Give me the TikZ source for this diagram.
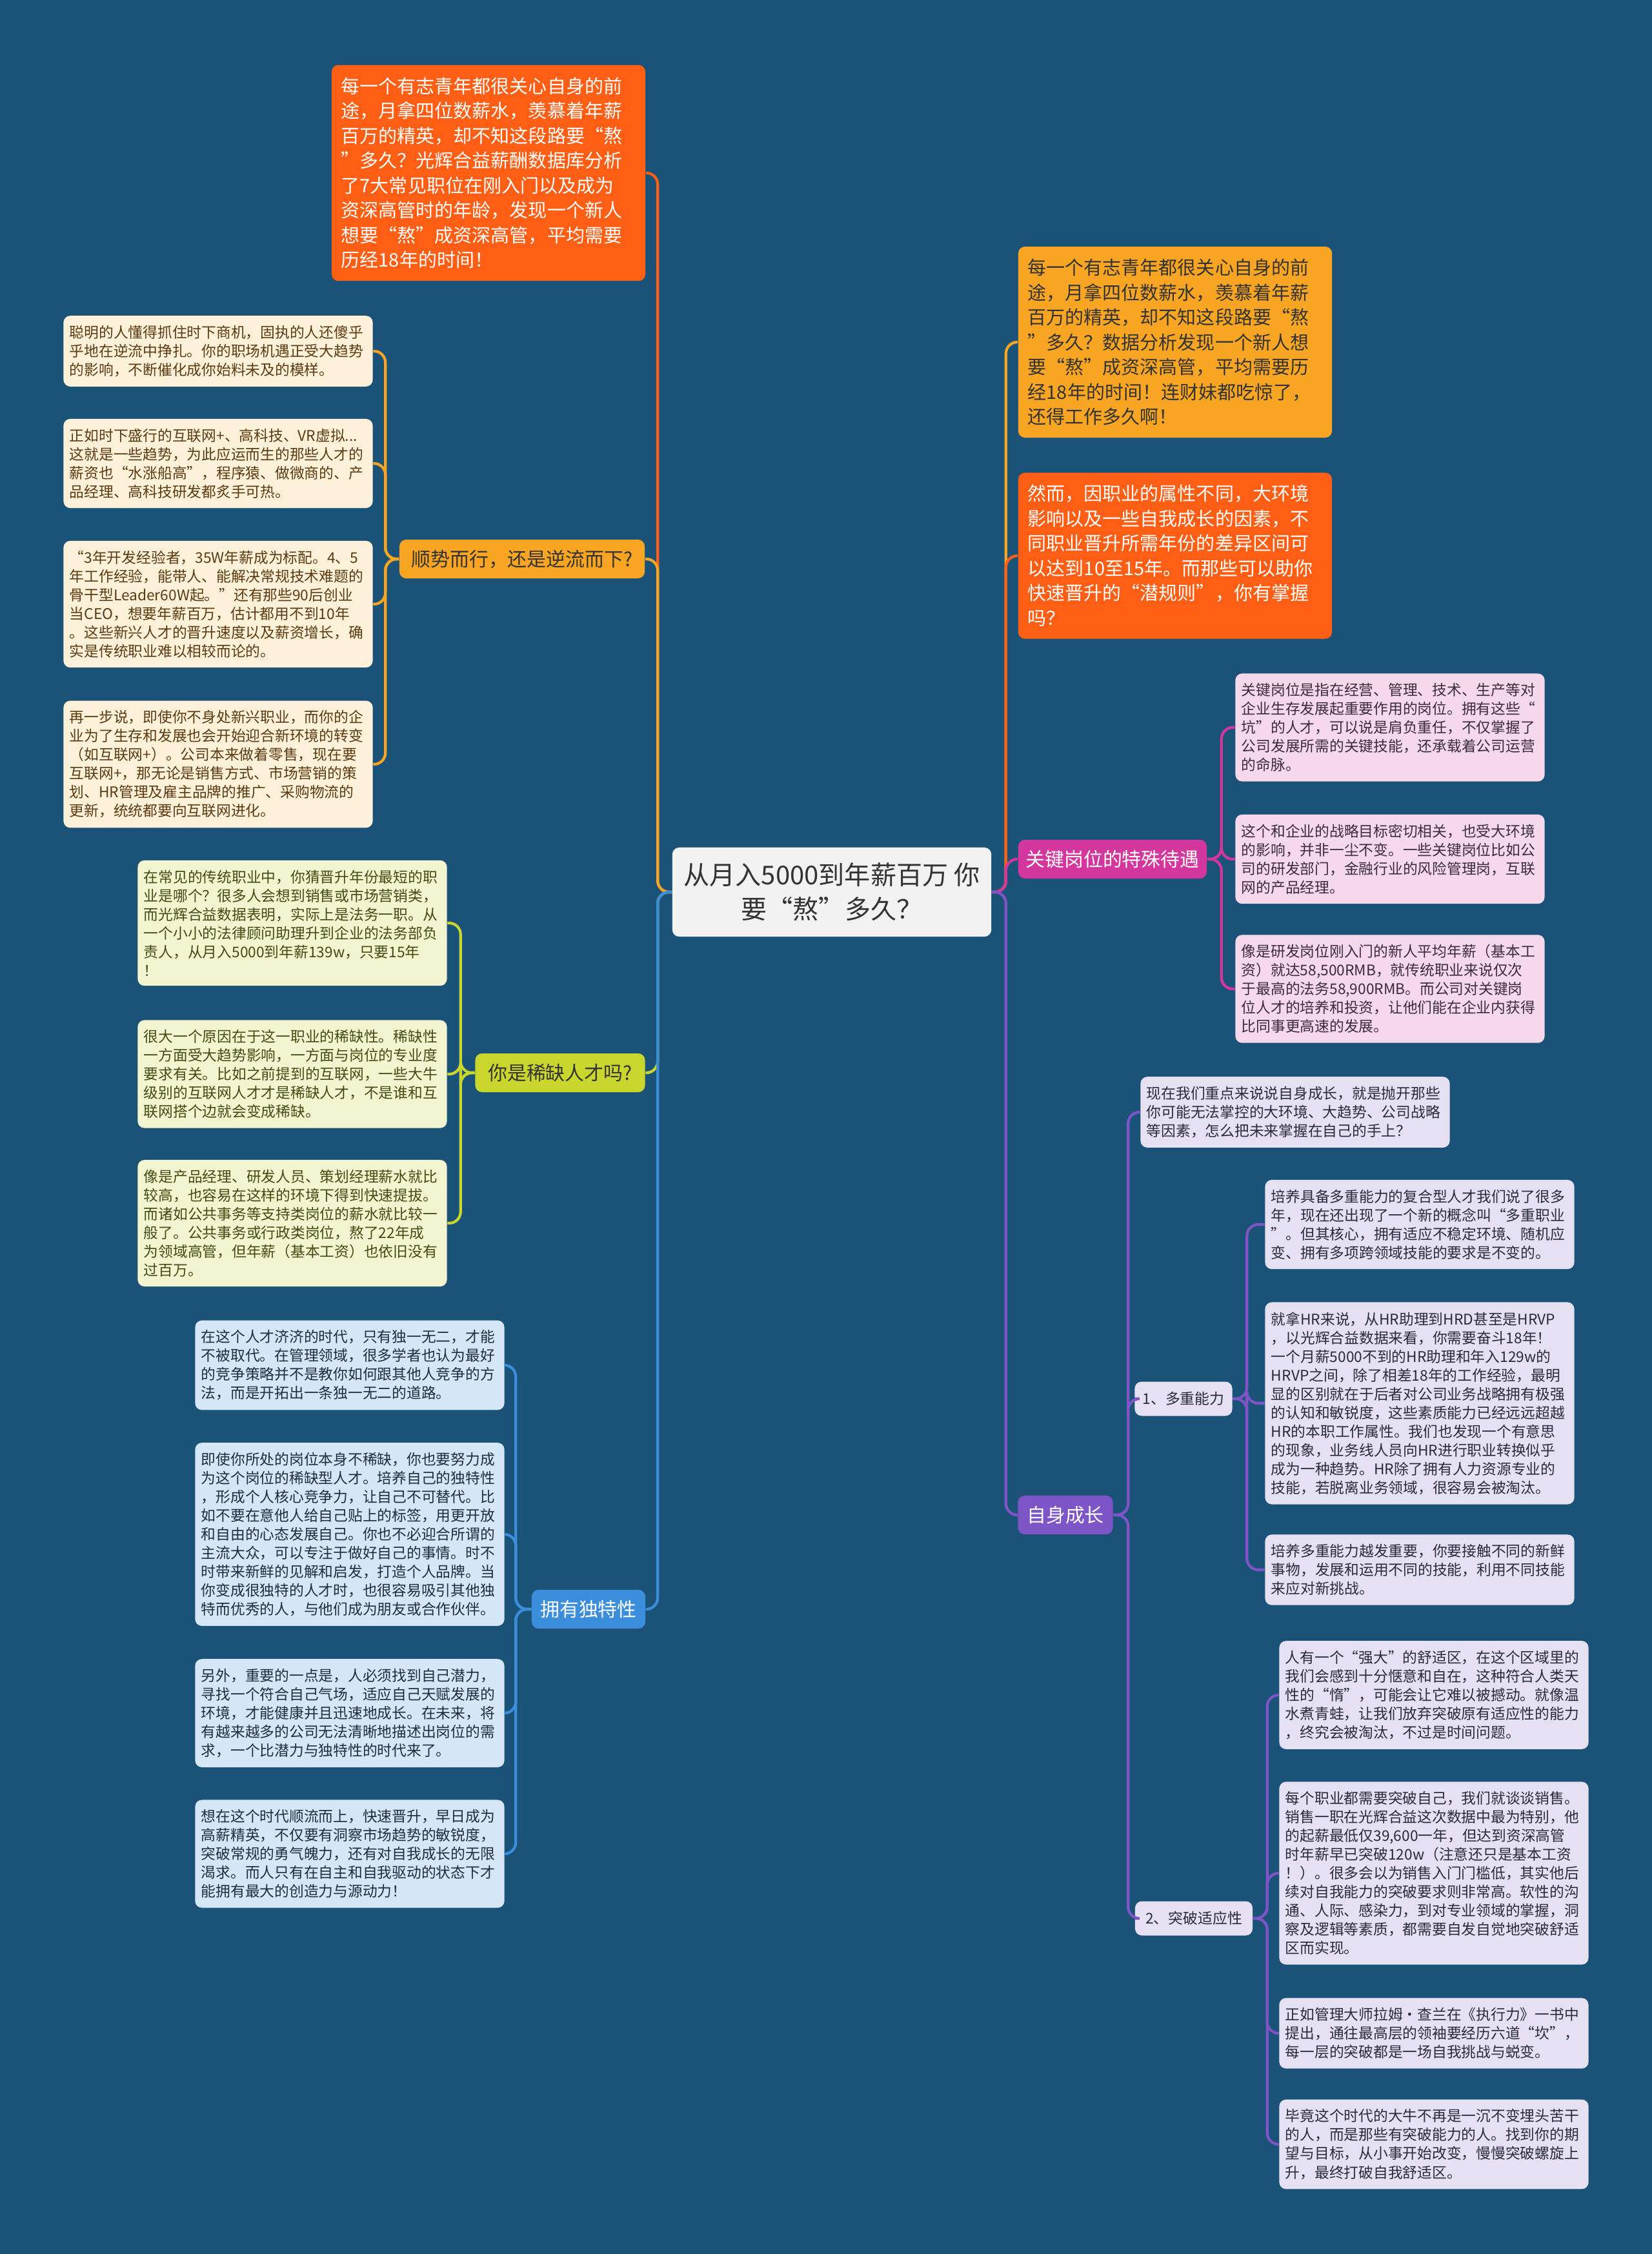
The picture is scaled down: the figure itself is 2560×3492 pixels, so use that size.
\documentclass[tikz,border=0pt]{standalone}
\usepackage{fontspec}
\setmainfont{Noto Sans CJK SC}
\usepackage{tikz}
\definecolor{MapBg}{HTML}{1B5277}
\definecolor{MapPaper}{HTML}{F2F2F2}
\definecolor{MapInk}{HTML}{333333}
\definecolor{MapFlame}{HTML}{FF5E14}
\definecolor{MapAmber}{HTML}{F7A523}
\definecolor{MapCream}{HTML}{FDF2D9}
\definecolor{MapBrown}{HTML}{5B3A12}
\definecolor{MapLime}{HTML}{C8D62E}
\definecolor{MapLimeLight}{HTML}{F3F5D1}
\definecolor{MapOlive}{HTML}{434B12}
\definecolor{MapSky}{HTML}{3A8EDB}
\definecolor{MapSkyLight}{HTML}{D5E6F6}
\definecolor{MapNavy}{HTML}{1F2D3D}
\definecolor{MapRose}{HTML}{D3379E}
\definecolor{MapRoseLight}{HTML}{F5D8EC}
\definecolor{MapPlum}{HTML}{3B2B3B}
\definecolor{MapViolet}{HTML}{7D55C7}
\definecolor{MapLilac}{HTML}{E5E1F2}
\definecolor{MapDusk}{HTML}{2A2A3F}
\newcommand{\mapcentre}{\fontsize{11.4pt}{15.1pt}\selectfont}
\newcommand{\mapbig}{\fontsize{8.25pt}{10.95pt}\selectfont}
\newcommand{\maptopic}{\fontsize{8.5pt}{10pt}\selectfont}
\newcommand{\mapsmall}{\fontsize{6.47pt}{8.25pt}\selectfont}
\newcommand{\maptag}{\fontsize{6.5pt}{8pt}\selectfont}
\begin{document}
\begin{tikzpicture}[x=0.01cm, y=-0.01cm,
  every node/.style={align=left},
  bigbox/.style={rounded corners=3pt, font=\mapbig, text width=4.56cm, inner xsep=0.15cm, inner ysep=0.19cm},
  leaf/.style={rounded corners=3pt, font=\mapsmall, text width=4.6cm, inner xsep=0.095cm, inner ysep=0.15cm},
  topic/.style={rounded corners=3pt, font=\maptopic, minimum height=0.6cm, inner sep=0pt, align=center},
  tag/.style={rounded corners=3pt, font=\maptag, minimum height=0.53cm, inner sep=0pt, align=center},
  link/.style={line width=1.2pt, rounded corners=5pt}]
  \fill[MapBg] (0,0) rectangle (2560,3492);
  \useasboundingbox (0,0) rectangle (2560,3492);

  \node[rounded corners=3pt, fill=MapPaper, text=MapInk, font=\mapcentre, align=center,
    minimum width=4.94cm, minimum height=1.38cm] (ctr) at (1289,1382)
    {从月入5000到年薪百万 你\\要“熬”多久？};

  % left side
  \node[bigbox, fill=MapFlame, text=white] (lA) at (757,268)
    {每一个有志青年都很关心自身的前\\途，月拿四位数薪水，羡慕着年薪\\百万的精英，却不知这段路要“熬\\”多久？光辉合益薪酬数据库分析\\了7大常见职位在刚入门以及成为\\资深高管时的年龄，发现一个新人\\想要“熬”成资深高管，平均需要\\历经18年的时间！};
  \node[topic, fill=MapAmber, text=MapInk, minimum width=3.8cm] (lB) at (809,866)
    {顺势而行，还是逆流而下?};
  \node[leaf, fill=MapCream, text=MapBrown] (L1) at (338,544)
    {聪明的人懂得抓住时下商机，固执的人还傻乎\\乎地在逆流中挣扎。你的职场机遇正受大趋势\\的影响，不断催化成你始料未及的模样。};
  \node[leaf, fill=MapCream, text=MapBrown] (L2) at (338,718)
    {正如时下盛行的互联网+、高科技、VR虚拟...\\这就是一些趋势，为此应运而生的那些人才的\\薪资也“水涨船高”，程序猿、做微商的、产\\品经理、高科技研发都炙手可热。};
  \node[leaf, fill=MapCream, text=MapBrown] (L3) at (338,936)
    {“3年开发经验者，35W年薪成为标配。4、5\\年工作经验，能带人、能解决常规技术难题的\\骨干型Leader60W起。”还有那些90后创业\\当CEO，想要年薪百万，估计都用不到10年\\。这些新兴人才的晋升速度以及薪资增长，确\\实是传统职业难以相较而论的。};
  \node[leaf, fill=MapCream, text=MapBrown] (L4) at (338,1184)
    {再一步说，即使你不身处新兴职业，而你的企\\业为了生存和发展也会开始迎合新环境的转变\\（如互联网+）。公司本来做着零售，现在要\\互联网+，那无论是销售方式、市场营销的策\\划、HR管理及雇主品牌的推广、采购物流的\\更新，统统都要向互联网进化。};

  \node[topic, fill=MapLime, text=MapInk, minimum width=2.63cm] (lC) at (868,1662)
    {你是稀缺人才吗?};
  \node[leaf, fill=MapLimeLight, text=MapOlive] (Y1) at (453,1430)
    {在常见的传统职业中，你猜晋升年份最短的职\\业是哪个？很多人会想到销售或市场营销类，\\而光辉合益数据表明，实际上是法务一职。从\\一个小小的法律顾问助理升到企业的法务部负\\责人，从月入5000到年薪139w，只要15年\\！};
  \node[leaf, fill=MapLimeLight, text=MapOlive] (Y2) at (453,1664)
    {很大一个原因在于这一职业的稀缺性。稀缺性\\一方面受大趋势影响，一方面与岗位的专业度\\要求有关。比如之前提到的互联网，一些大牛\\级别的互联网人才才是稀缺人才，不是谁和互\\联网搭个边就会变成稀缺。};
  \node[leaf, fill=MapLimeLight, text=MapOlive] (Y3) at (453,1895)
    {像是产品经理、研发人员、策划经理薪水就比\\较高，也容易在这样的环境下得到快速提拔。\\而诸如公共事务等支持类岗位的薪水就比较一\\般了。公共事务或行政类岗位，熬了22年成\\为领域高管，但年薪（基本工资）也依旧没有\\过百万。};

  \node[topic, fill=MapSky, text=white, minimum width=1.76cm] (lD) at (912,2493)
    {拥有独特性};
  \node[leaf, fill=MapSkyLight, text=MapNavy] (B1) at (542,2115)
    {在这个人才济济的时代，只有独一无二，才能\\不被取代。在管理领域，很多学者也认为最好\\的竞争策略并不是教你如何跟其他人竞争的方\\法，而是开拓出一条独一无二的道路。};
  \node[leaf, fill=MapSkyLight, text=MapNavy] (B2) at (542,2377)
    {即使你所处的岗位本身不稀缺，你也要努力成\\为这个岗位的稀缺型人才。培养自己的独特性\\，形成个人核心竞争力，让自己不可替代。比\\如不要在意他人给自己贴上的标签，用更开放\\和自由的心态发展自己。你也不必迎合所谓的\\主流大众，可以专注于做好自己的事情。时不\\时带来新鲜的见解和启发，打造个人品牌。当\\你变成很独特的人才时，也很容易吸引其他独\\特而优秀的人，与他们成为朋友或合作伙伴。};
  \node[leaf, fill=MapSkyLight, text=MapNavy] (B3) at (542,2654)
    {另外，重要的一点是，人必须找到自己潜力，\\寻找一个符合自己气场，适应自己天赋发展的\\环境，才能健康并且迅速地成长。在未来，将\\有越来越多的公司无法清晰地描述出岗位的需\\求，一个比潜力与独特性的时代来了。};
  \node[leaf, fill=MapSkyLight, text=MapNavy] (B4) at (542,2872)
    {想在这个时代顺流而上，快速晋升，早日成为\\高薪精英，不仅要有洞察市场趋势的敏锐度，\\突破常规的勇气魄力，还有对自我成长的无限\\渴求。而人只有在自主和自我驱动的状态下才\\能拥有最大的创造力与源动力！};

  % right side
  \node[bigbox, fill=MapAmber, text=MapInk] (rA) at (1821,530)
    {每一个有志青年都很关心自身的前\\途，月拿四位数薪水，羡慕着年薪\\百万的精英，却不知这段路要“熬\\”多久？数据分析发现一个新人想\\要“熬”成资深高管，平均需要历\\经18年的时间！连财妹都吃惊了，\\还得工作多久啊！};
  \node[bigbox, fill=MapFlame, text=white] (rB) at (1821,861)
    {然而，因职业的属性不同，大环境\\影响以及一些自我成长的因素，不\\同职业晋升所需年份的差异区间可\\以达到10至15年。而那些可以助你\\快速晋升的“潜规则”，你有掌握\\吗？};

  \node[topic, fill=MapRose, text=white, minimum width=2.92cm] (rC) at (1724,1331)
    {关键岗位的特殊待遇};
  \node[leaf, fill=MapRoseLight, text=MapPlum] (P1) at (2154,1127)
    {关键岗位是指在经营、管理、技术、生产等对\\企业生存发展起重要作用的岗位。拥有这些“\\坑”的人才，可以说是肩负重任，不仅掌握了\\公司发展所需的关键技能，还承载着公司运营\\的命脉。};
  \node[leaf, fill=MapRoseLight, text=MapPlum] (P2) at (2154,1331)
    {这个和企业的战略目标密切相关，也受大环境\\的影响，并非一尘不变。一些关键岗位比如公\\司的研发部门，金融行业的风险管理岗，互联\\网的产品经理。};
  \node[leaf, fill=MapRoseLight, text=MapPlum] (P3) at (2154,1532)
    {像是研发岗位刚入门的新人平均年薪（基本工\\资）就达58,500RMB，就传统职业来说仅次\\于最高的法务58,900RMB。而公司对关键岗\\位人才的培养和投资，让他们能在企业内获得\\比同事更高速的发展。};

  \node[topic, fill=MapViolet, text=white, minimum width=1.47cm] (rD) at (1651,2347)
    {自身成长};
  \node[leaf, fill=MapLilac, text=MapDusk] (S0) at (2007,1723)
    {现在我们重点来说说自身成长，就是抛开那些\\你可能无法掌控的大环境、大趋势、公司战略\\等因素，怎么把未来掌握在自己的手上？};
  \node[tag, fill=MapLilac, text=MapDusk, minimum width=1.51cm] (rE) at (1834,2167)
    {1、多重能力};
  \node[tag, fill=MapLilac, text=MapDusk, minimum width=1.82cm] (rF) at (1850,2972)
    {2、突破适应性};

  \node[leaf, fill=MapLilac, text=MapDusk] (M1) at (2200,1897)
    {培养具备多重能力的复合型人才我们说了很多\\年，现在还出现了一个新的概念叫“多重职业\\”。但其核心，拥有适应不稳定环境、随机应\\变、拥有多项跨领域技能的要求是不变的。};
  \node[leaf, fill=MapLilac, text=MapDusk] (M2) at (2200,2174)
    {就拿HR来说，从HR助理到HRD甚至是HRVP\\，以光辉合益数据来看，你需要奋斗18年！\\一个月薪5000不到的HR助理和年入129w的\\HRVP之间，除了相差18年的工作经验，最明\\显的区别就在于后者对公司业务战略拥有极强\\的认知和敏锐度，这些素质能力已经远远超越\\HR的本职工作属性。我们也发现一个有意思\\的现象，业务线人员向HR进行职业转换似乎\\成为一种趋势。HR除了拥有人力资源专业的\\技能，若脱离业务领域，很容易会被淘汰。};
  \node[leaf, fill=MapLilac, text=MapDusk] (M3) at (2200,2432)
    {培养多重能力越发重要，你要接触不同的新鲜\\事物，发展和运用不同的技能，利用不同技能\\来应对新挑战。};

  \node[leaf, fill=MapLilac, text=MapDusk] (T1) at (2222,2626)
    {人有一个“强大”的舒适区，在这个区域里的\\我们会感到十分惬意和自在，这种符合人类天\\性的“惰”，可能会让它难以被撼动。就像温\\水煮青蛙，让我们放弃突破原有适应性的能力\\，终究会被淘汰，不过是时间问题。};
  \node[leaf, fill=MapLilac, text=MapDusk] (T2) at (2222,2902)
    {每个职业都需要突破自己，我们就谈谈销售。\\销售一职在光辉合益这次数据中最为特别，他\\的起薪最低仅39,600一年，但达到资深高管\\时年薪早已突破120w（注意还只是基本工资\\！）。很多会以为销售入门门槛低，其实他后\\续对自我能力的突破要求则非常高。软性的沟\\通、人际、感染力，到对专业领域的掌握，洞\\察及逻辑等素质，都需要自发自觉地突破舒适\\区而实现。};
  \node[leaf, fill=MapLilac, text=MapDusk] (T3) at (2222,3150)
    {正如管理大师拉姆·查兰在《执行力》一书中\\提出，通往最高层的领袖要经历六道“坎”，\\每一层的突破都是一场自我挑战与蜕变。};
  \node[leaf, fill=MapLilac, text=MapDusk] (T4) at (2222,3322)
    {毕竟这个时代的大牛不再是一沉不变埋头苦干\\的人，而是那些有突破能力的人。找到你的期\\望与目标，从小事开始改变，慢慢突破螺旋上\\升，最终打破自我舒适区。};

  % connectors
  \draw[link, draw=MapFlame]  (ctr.west) -- ++(-22,0) |- (lA.east);
  \draw[link, draw=MapAmber]  (ctr.west) -- ++(-22,0) |- (lB.east);
  \draw[link, draw=MapLime]   (ctr.west) -- ++(-22,0) |- (lC.east);
  \draw[link, draw=MapSky]    (ctr.west) -- ++(-22,0) |- (lD.east);
  \draw[link, draw=MapAmber]  (ctr.east) -- ++(22,0) |- (rA.west);
  \draw[link, draw=MapFlame]  (ctr.east) -- ++(22,0) |- (rB.west);
  \draw[link, draw=MapRose]   (ctr.east) -- ++(22,0) |- (rC.west);
  \draw[link, draw=MapViolet] (ctr.east) -- ++(22,0) |- (rD.west);

  \draw[link, draw=MapAmber] (lB.west) -- ++(-21,0) |- (L1.east);
  \draw[link, draw=MapAmber] (lB.west) -- ++(-21,0) |- (L2.east);
  \draw[link, draw=MapAmber] (lB.west) -- ++(-21,0) |- (L3.east);
  \draw[link, draw=MapAmber] (lB.west) -- ++(-21,0) |- (L4.east);

  \draw[link, draw=MapLime] (lC.west) -- ++(-22,0) |- (Y1.east);
  \draw[link, draw=MapLime] (lC.west) -- ++(-22,0) |- (Y2.east);
  \draw[link, draw=MapLime] (lC.west) -- ++(-22,0) |- (Y3.east);

  \draw[link, draw=MapSky] (lD.west) -- ++(-24,0) |- (B1.east);
  \draw[link, draw=MapSky] (lD.west) -- ++(-24,0) |- (B2.east);
  \draw[link, draw=MapSky] (lD.west) -- ++(-24,0) |- (B3.east);
  \draw[link, draw=MapSky] (lD.west) -- ++(-24,0) |- (B4.east);

  \draw[link, draw=MapRose] (rC.east) -- ++(22,0) |- (P1.west);
  \draw[link, draw=MapRose] (rC.east) -- ++(22,0) |- (P2.west);
  \draw[link, draw=MapRose] (rC.east) -- ++(22,0) |- (P3.west);

  \draw[link, draw=MapViolet] (rD.east) -- ++(23,0) |- (S0.west);
  \draw[link, draw=MapViolet] (rD.east) -- ++(23,0) |- (rE.west);
  \draw[link, draw=MapViolet] (rD.east) -- ++(23,0) |- (rF.west);

  \draw[link, draw=MapViolet] (rE.east) -- ++(22,0) |- (M1.west);
  \draw[link, draw=MapViolet] (rE.east) -- ++(22,0) |- (M2.west);
  \draw[link, draw=MapViolet] (rE.east) -- ++(22,0) |- (M3.west);

  \draw[link, draw=MapViolet] (rF.east) -- ++(22,0) |- (T1.west);
  \draw[link, draw=MapViolet] (rF.east) -- ++(22,0) |- (T2.west);
  \draw[link, draw=MapViolet] (rF.east) -- ++(22,0) |- (T3.west);
  \draw[link, draw=MapViolet] (rF.east) -- ++(22,0) |- (T4.west);
\end{tikzpicture}
\end{document}
